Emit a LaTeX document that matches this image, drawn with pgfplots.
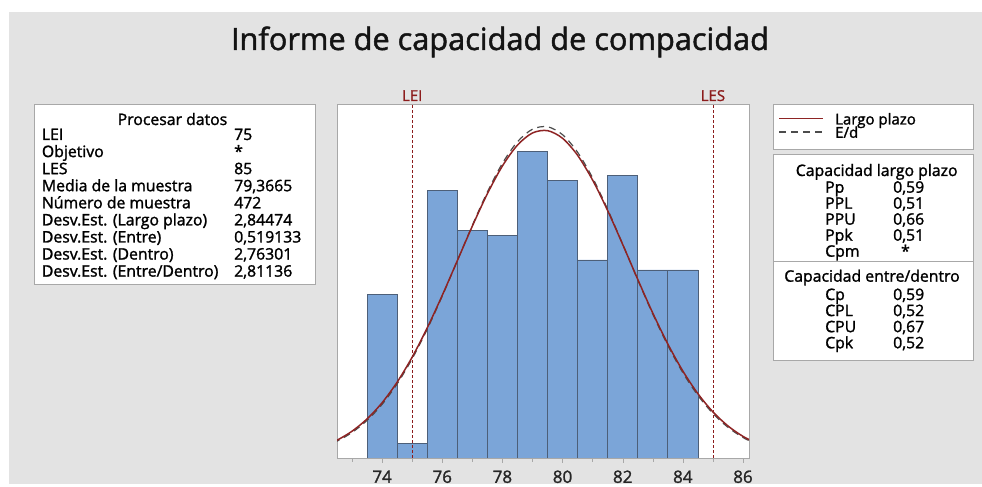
\documentclass[border=0pt]{standalone}
\usepackage{pgfplots}
\pgfplotsset{compat=1.18}
\usepackage{fontspec}
\setmainfont{Open Sans}
\newfontfamily\boldish[FakeBold=1.5]{Open Sans}
\definecolor{bg}{HTML}{E3E3E3}
\definecolor{barfill}{HTML}{7BA5D8}
\definecolor{baredge}{HTML}{4D5F78}
\definecolor{lred}{HTML}{8C1C1C}
\definecolor{curvered}{HTML}{8E2424}
\definecolor{boxgray}{HTML}{A8A8A8}
\newcommand{\tf}{\boldish\fontsize{15.8}{17}\selectfont}
\begin{document}
\begin{tikzpicture}[x=1pt,y=1pt]
\fill[white] (0,0) rectangle (982,484);
\fill[bg] (9,0) rectangle (982,472);
% title
\node[anchor=base, inner sep=0, text=black!92] at (500,434) {\boldish\fontsize{30.7}{34}\selectfont Informe de capacidad de compacidad};
\begin{axis}[at={(337pt,26pt)}, anchor=south west, width=412pt, height=354pt, scale only axis,
  xmin=72.5, xmax=86.2, ymin=0, ymax=71.5, ytick=\empty,
  xtick={74,76,...,86}, minor xtick={73,75,...,85}, xtick pos=bottom,
  tick align=outside, major tick length=5pt, minor tick length=4pt,
  axis line style={boxgray}, every tick/.style={boxgray},
  ticklabel style={font=\boldish\fontsize{17}{17}\selectfont, text=black!85},
  xticklabel style={yshift=-4pt},
  /pgf/number format/assume math mode=true,
  axis background/.style={fill=white}, clip mode=individual]
\addplot[ybar, bar width=1, fill=barfill, draw=baredge, line width=0.7pt] coordinates {
(74,33) (75,3) (76,54) (77,46) (78,45) (79,62) (80,56) (81,40) (82,57) (83,38) (84,38)};
\addplot[lred, dash pattern=on 3pt off 2pt, line width=0.6pt] coordinates {(75,0) (75,71.5)};
\addplot[lred, dash pattern=on 3pt off 2pt, line width=0.6pt] coordinates {(85,0) (85,71.5)};
\addplot[black!70, dash pattern=on 7pt off 5pt, line width=1.2pt, smooth] coordinates {
(72.0,2.163) (72.5,3.393) (73.0,5.157) (73.5,7.593) (74.0,10.832) (74.5,14.972) (75.0,20.050)
(75.5,26.014) (76.0,32.701) (76.5,39.828) (77.0,46.998) (77.5,53.731) (78.0,59.516) (78.5,63.872)
(79.0,66.412) (79.5,66.904) (80.0,65.300) (80.5,61.750) (81.0,56.576) (81.5,50.221) (82.0,43.191)
(82.5,35.990) (83.0,29.055) (83.5,22.726) (84.0,17.222) (84.5,12.645) (85.0,8.995) (85.5,6.200)
(86.0,4.140) (86.5,2.678)};
\addplot[curvered, line width=1.5pt, smooth] coordinates {
(72.0,2.316) (72.5,3.595) (73.0,5.410) (73.5,7.895) (74.0,11.170) (74.5,15.322) (75.0,20.380)
(75.5,26.282) (76.0,32.863) (76.5,39.841) (77.0,46.831) (77.5,53.374) (78.0,58.980) (78.5,63.192)
(79.0,65.646) (79.5,66.120) (80.0,64.572) (80.5,61.142) (81.0,56.132) (81.5,49.966) (82.0,43.124)
(82.5,36.086) (83.0,29.279) (83.5,23.033) (84.0,17.568) (84.5,12.992) (85.0,9.316) (85.5,6.477)
(86.0,4.366) (86.5,2.853)};
\node[anchor=base, inner sep=0, text=lred, font=\boldish\fontsize{15}{15}\selectfont] at (axis cs:75,71.5) [yshift=3pt] {LEI};
\node[anchor=base, inner sep=0, text=lred, font=\boldish\fontsize{15}{15}\selectfont] at (axis cs:85,71.5) [yshift=3pt] {LES};
\end{axis}
% left box
\draw[boxgray, fill=white] (34,380) rectangle (315,200);
\node[anchor=base, inner sep=0] at (172.5,359) {\tf Procesar datos};
\foreach \lab/\val [count=\i from 0] in {LEI/75, Objetivo/*, LES/85, Media de la muestra/{79,3665}, Número de muestra/472, Desv.Est. (Largo plazo)/{2,84474}, Desv.Est. (Entre)/{0,519133}, Desv.Est. (Dentro)/{2,76301}, {Desv.Est. (Entre/Dentro)}/{2,81136}} {
  \node[anchor=base west, inner sep=0] at (41.7,{344-17.08*\i}) {\tf \lab};
  \node[anchor=base west, inner sep=0] at (234,{344-17.08*\i}) {\tf \val};
}
% legend box
\draw[boxgray, fill=white] (773,380) rectangle (973,335);
\draw[curvered, line width=1.5pt] (779,365.7) -- (823,365.7);
\draw[black!70, line width=1.2pt, dash pattern=on 7pt off 5pt] (779,352) -- (823,352);
\node[anchor=base west, inner sep=0] at (835,359.5) {\boldish\fontsize{15}{15}\selectfont Largo plazo};
\node[anchor=base west, inner sep=0] at (835,346.2) {\boldish\fontsize{15}{15}\selectfont E/d};
% capability box
\draw[boxgray, fill=white] (773,330) rectangle (973,124);
\draw[boxgray] (773,222.3) -- (973,222.3);
\node[anchor=base, inner sep=0] at (876.7,308) {\tf Capacidad largo plazo};
\foreach \lab/\val [count=\i from 0] in {Pp/{0,59}, PPL/{0,51}, PPU/{0,66}, Ppk/{0,51}, Cpm/{\,\,\,*}} {
  \node[anchor=base west, inner sep=0] at (825,{291.3-16*\i}) {\tf \lab};
  \node[anchor=base west, inner sep=0] at (893,{291.3-16*\i}) {\tf \val};
}
\node[anchor=base, inner sep=0] at (872,202.3) {\tf Capacidad entre/dentro};
\foreach \lab/\val [count=\i from 0] in {Cp/{0,59}, CPL/{0,52}, CPU/{0,67}, Cpk/{0,52}} {
  \node[anchor=base west, inner sep=0] at (825,{184-16.1*\i}) {\tf \lab};
  \node[anchor=base west, inner sep=0] at (893,{184-16.1*\i}) {\tf \val};
}
\end{tikzpicture}
\end{document}
